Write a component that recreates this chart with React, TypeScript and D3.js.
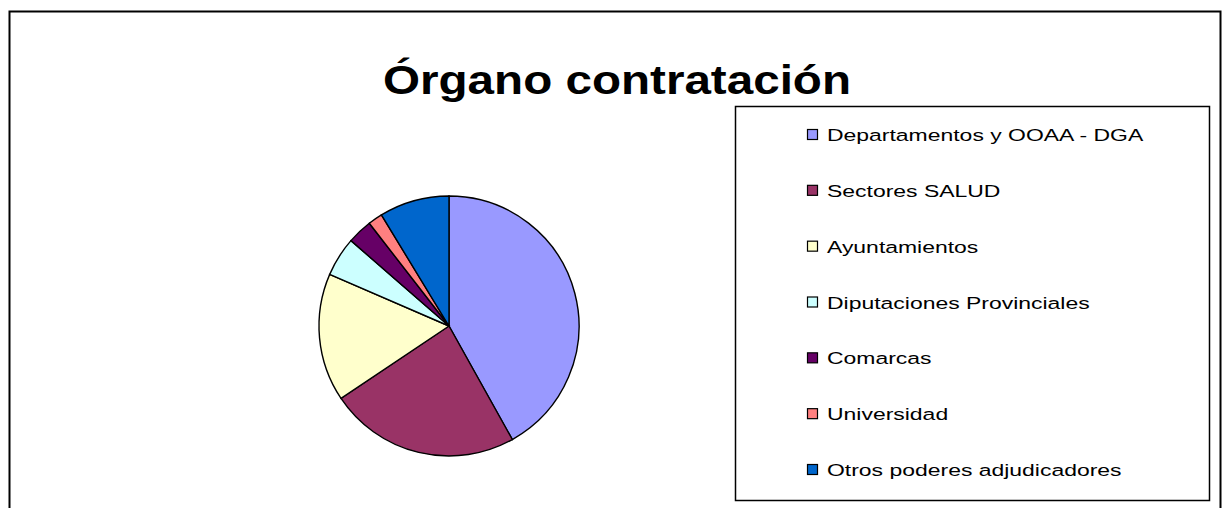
import React from "react";
import * as d3 from "d3";

const categories = [
  "Departamentos y OOAA - DGA",
  "Sectores SALUD",
  "Ayuntamientos",
  "Diputaciones Provinciales",
  "Comarcas",
  "Universidad",
  "Otros poderes adjudicadores",
];
const values = [41.9, 23.7, 15.9, 4.9, 3.1, 1.8, 8.7];
const colors = ["#9999FF", "#993366", "#FFFFCC", "#CCFFFF", "#660066", "#FF8080", "#0066CC"];
const title = "Órgano contratación";

export default function App() {
  const W = 1227;
  const H = 508;
  const cx = 449;
  const cy = 326;
  const r = 130;

  const pie = d3.pie<number>().sort(null).value((d) => d)(values);
  const arc = d3.arc<d3.PieArcDatum<number>>().innerRadius(0).outerRadius(r);

  const legendY = d3
    .scalePoint<string>()
    .domain(categories)
    .range([135, 470]);

  return (
    <svg
      width={W}
      height={H}
      style={{ position: "absolute", left: 0, top: 0, background: "#fff" }}
      fontFamily="'Liberation Sans', Arial, sans-serif"
    >
      <rect x={0} y={0} width={W} height={H} fill="#fff" />
      {/* outer chart border */}
      <rect x={9.5} y={11.5} width={1211} height={520} fill="none" stroke="#000" strokeWidth={2} />
      <g transform="translate(617,94) scale(1.19,1)">
        <text x={0} y={0} textAnchor="middle" fontSize={40} fontWeight="bold" fill="#000">
          {title}
        </text>
      </g>
      <g transform={`translate(${cx},${cy})`}>
        {pie.map((p, i) => (
          <path key={i} d={arc(p) || ""} fill={colors[i]} stroke="#000" strokeWidth={1.4} />
        ))}
      </g>
      {/* legend */}
      <rect x={735.5} y={106.5} width={474} height={394} fill="#fff" stroke="#000" strokeWidth={1.5} />
      {categories.map((c, i) => {
        const y = legendY(c) as number;
        return (
          <g key={c}>
            <rect x={807.5} y={y - 5.5} width={10} height={10} fill={colors[i]} stroke="#000" strokeWidth={1.2} />
            <g transform={`translate(827,${y + 6}) scale(1.35,1)`}>
              <text x={0} y={0} fontSize={17} fill="#000">
                {c}
              </text>
            </g>
          </g>
        );
      })}
    </svg>
  );
}
